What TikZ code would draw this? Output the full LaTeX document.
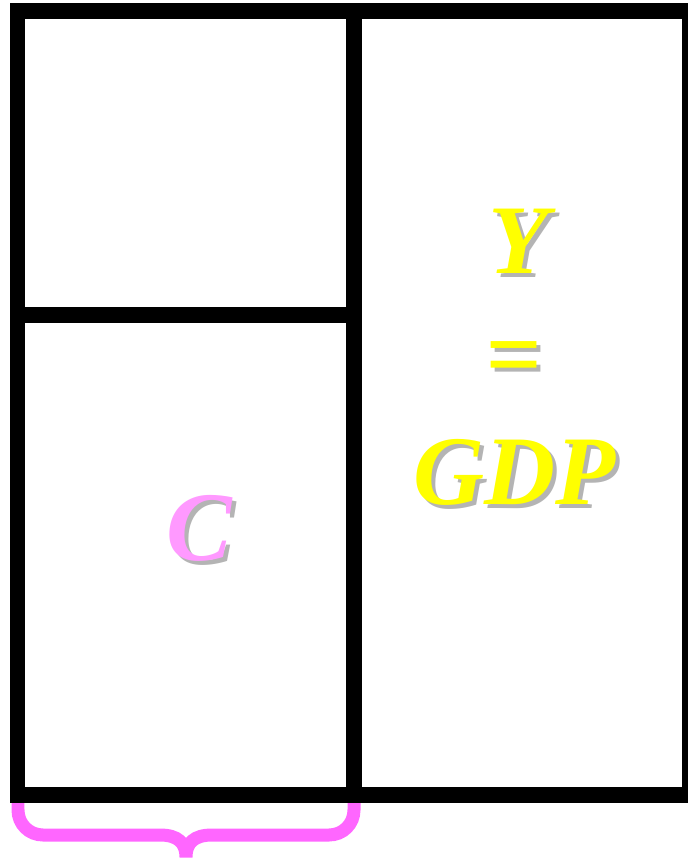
\documentclass[tikz,border=0pt]{standalone}
\usepackage{fontspec}
\setmainfont{Liberation Serif}
\definecolor{gdpyellow}{HTML}{FFFF00}
\definecolor{conpink}{HTML}{FF99FF}
\definecolor{bracepink}{HTML}{FF66FF}
\definecolor{shade}{HTML}{B4B4B4}
\tikzset{
  wall/.style={line width=0.32cm, line join=miter},
  bigtxt/.style={inner sep=0pt, font=\fontsize{56}{56}\selectfont\bfseries\itshape},
  shadowtxt/.style={bigtxt, text=shade}
}
\begin{document}
\begin{tikzpicture}[x=0.02cm, y=-0.02cm]
  \useasboundingbox (0,0) rectangle (688,866);
  % brace under the C column
  \draw[bracepink, line width=0.26cm, line cap=round]
    (18,795) -- (18,810) .. controls (18,824) and (29,835) .. (43,835) -- (160,835)
    .. controls (178,835) and (186,843) .. (186,857)
    .. controls (186,843) and (194,835) .. (212,835)
    -- (329,835) .. controls (343,835) and (354,824) .. (354,810) -- (354,795);
  % frame and dividers
  \draw[wall] (17.5,11) rectangle (690,795);
  \draw[wall] (354,11) -- (354,795);
  \draw[wall] (17.5,315) -- (354,315);
  % labels with drop shadow
  \node[shadowtxt, anchor=base] (ys) at (523,277) {Y};
  \node[bigtxt, text=gdpyellow, anchor=base] (y) at (519,273) {Y};
  \node[shadowtxt] (eqs) at (518,369) {=};
  \node[bigtxt, text=gdpyellow] (eq) at (514,365) {=};
  \node[shadowtxt, anchor=base] (gdps) at (519,508) {GDP};
  \node[bigtxt, text=gdpyellow, anchor=base] (gdp) at (515,504) {GDP};
  \node[shadowtxt, anchor=base] (cs) at (203,564) {C};
  \node[bigtxt, text=conpink, anchor=base] (c) at (199,560) {C};
\end{tikzpicture}
\end{document}
